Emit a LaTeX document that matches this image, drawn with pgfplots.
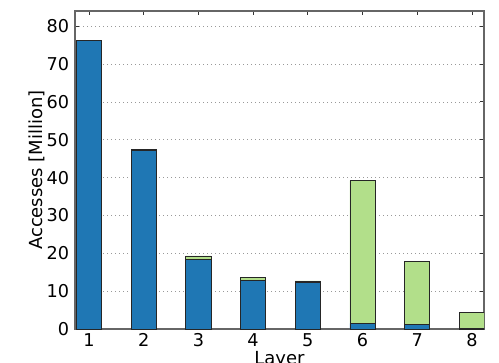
\documentclass[border=0pt]{standalone}
\usepackage{pgfplots}
\pgfplotsset{compat=1.18}
\usepackage{fontspec}
\setmainfont{DejaVu Sans}
\usetikzlibrary{calc}
\definecolor{barblue}{RGB}{31,119,180}
\definecolor{bargreen}{RGB}{178,223,138}
\begin{document}
\begin{tikzpicture}
\begin{axis}[
  scale only axis,
  width=245.4pt, height=190.8pt,
  ybar stacked,
  bar width=0.46,
  xmin=0.745, xmax=8.22,
  ymin=0, ymax=84,
  xtick={1,2,3,4,5,6,7,8},
  ytick={0,10,20,30,40,50,60,70,80},
  ymajorgrids,
  major grid style={dotted, gray!80},
  major tick length=2.5pt,
  tick style={black!80, line width=0.5pt},
  axis line style={black!60, line width=0.7pt},
  tick label style={font=\fontsize{10.6}{12}\selectfont},
  xticklabel style={yshift=1pt},
  /pgf/number format/assume math mode=true,
  label style={font=\fontsize{10.8}{12}\selectfont},
  ylabel={Accesses [Million]},
  xlabel={Layer},
  ylabel style={yshift=-6pt},
  xlabel style={yshift=4pt},
  every axis plot/.append style={draw=black!85, line width=0.5pt},
]
\addplot[fill=barblue] coordinates {
  (1,76.1) (2,47.1) (3,18.4) (4,12.9) (5,12.2) (6,1.5) (7,1.2) (8,0.2)
};
\addplot[fill=bargreen] coordinates {
  (1,0.2) (2,0.4) (3,0.9) (4,0.7) (5,0.5) (6,37.7) (7,16.7) (8,4.2)
};
\end{axis}
\pgfresetboundingbox
\path[use as bounding box] ($(current axis.south west)+(-45pt,-19.8pt)$) rectangle ($(current axis.north east)+(9pt,6.6pt)$);
\end{tikzpicture}
\end{document}
